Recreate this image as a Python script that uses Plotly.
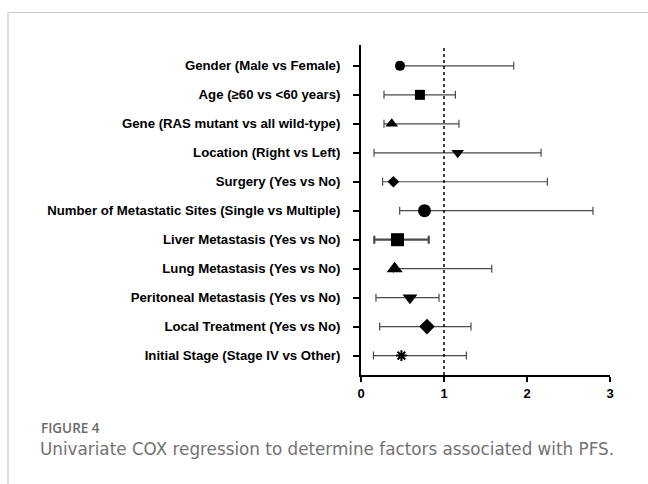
import plotly.graph_objects as go

labels = [
    "Gender (Male vs Female)",
    "Age (≥60 vs <60 years)",
    "Gene (RAS mutant vs all wild-type)",
    "Location (Right vs Left)",
    "Surgery (Yes vs No)",
    "Number of Metastatic Sites (Single vs Multiple)",
    "Liver Metastasis (Yes vs No)",
    "Lung Metastasis (Yes vs No)",
    "Peritoneal Metastasis (Yes vs No)",
    "Local Treatment (Yes vs No)",
    "Initial Stage (Stage IV vs Other)",
]
hr = [0.47, 0.71, 0.37, 1.165, 0.39, 0.765, 0.44, 0.405, 0.59, 0.795, 0.487]
lower = [0.43, 0.277, 0.277, 0.157, 0.26, 0.466, 0.16, 0.39, 0.18, 0.225, 0.15]
upper = [1.84, 1.137, 1.18, 2.17, 2.245, 2.795, 0.816, 1.575, 0.94, 1.325, 1.27]
symbols = ["circle", "square", "triangle-up", "triangle-down", "diamond", "circle",
           "square", "triangle-up", "triangle-down", "diamond", "asterisk"]
sizes = [10, 10, 11, 11, 9, 13, 13, 14, 13, 12, 9]
bar_widths = [1.2, 1.2, 1.2, 1.2, 1.2, 1.2, 2.2, 1.2, 1.2, 1.2, 1.2]

W, H = 648, 484
L, R, T, B = 361, 38, 45, 109
pw, ph = W - L - R, H - T - B

def px_x(px):
    return (px - L) / pw

def px_y(py):
    return (H - B - py) / ph

fig = go.Figure()
for i, lab in enumerate(labels):
    y = i + 1
    sym = symbols[i]
    marker = dict(symbol=sym, size=sizes[i], color="black")
    if sym == "asterisk":
        marker["line"] = dict(color="black", width=2)
    fig.add_trace(go.Scatter(
        x=[hr[i]], y=[y], mode="markers", marker=marker,
        error_x=dict(type="data", symmetric=False,
                     array=[upper[i] - hr[i]], arrayminus=[hr[i] - lower[i]],
                     color="#4a4a4a", thickness=bar_widths[i], width=4),
        showlegend=False, cliponaxis=False, name=lab,
    ))

fig.add_shape(type="line", xref="x", yref="paper", x0=1, x1=1, y0=0, y1=1,
              line=dict(color="black", width=1.5, dash="dot"))

# outer light border
fig.add_shape(type="rect", xref="paper", yref="paper",
              x0=px_x(8), x1=px_x(700), y0=px_y(12.5), y1=px_y(600),
              line=dict(color="#cccccc", width=1.2), layer="below")

fig.add_annotation(text="FIGURE 4", xref="paper", yref="paper",
                   x=px_x(39), y=px_y(428), xanchor="left", yanchor="middle",
                   showarrow=False,
                   font=dict(family="Open Sans", size=13.5, color="#6a6a6a", weight=600))
fig.add_annotation(text="Univariate COX regression to determine factors associated with PFS.",
                   xref="paper", yref="paper",
                   x=px_x(38), y=px_y(449), xanchor="left", yanchor="middle",
                   showarrow=False,
                   font=dict(family="DejaVu Sans", size=16.8, color="#727272"))

fig.update_layout(
    width=W, height=H, margin=dict(l=L, r=R, t=T, b=B),
    plot_bgcolor="white", paper_bgcolor="white",
    xaxis=dict(range=[0, 3], tickvals=[0, 1, 2, 3], showgrid=False, zeroline=False,
               showline=True, linecolor="black", linewidth=2,
               ticks="outside", ticklen=5, tickwidth=2, tickcolor="black",
               tickfont=dict(family="Liberation Sans", size=13, color="black", weight="bold")),
    yaxis=dict(range=[11.67, 0.28], tickvals=list(range(1, 12)), ticktext=labels,
               showgrid=False, zeroline=False,
               showline=True, linecolor="black", linewidth=2,
               ticks="outside", ticklen=6, tickwidth=2, tickcolor="black",
               ticklabelstandoff=10,
               tickfont=dict(family="Liberation Sans", size=13.2, color="black", weight="bold")),
)

fig.write_html("out.html")
